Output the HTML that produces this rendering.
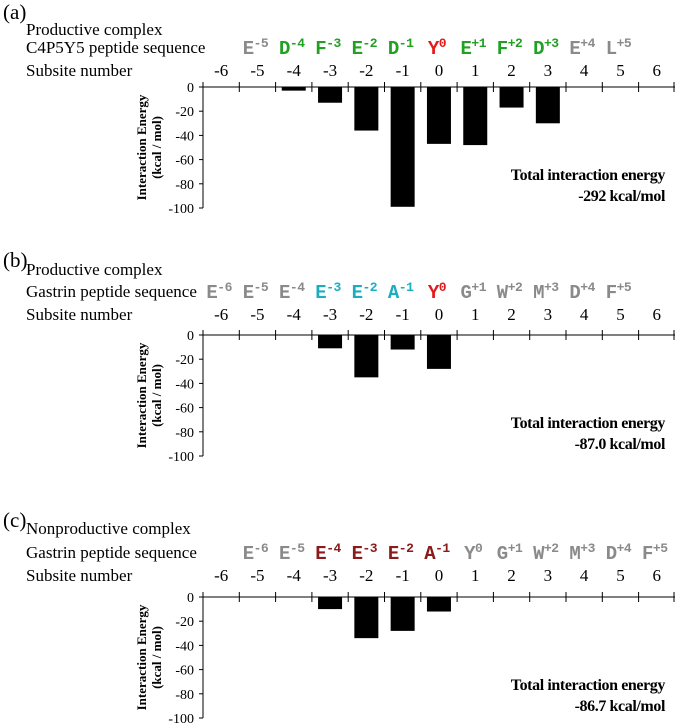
<!DOCTYPE html>
<html><head><meta charset="utf-8"><style>
body{margin:0;background:#fff;width:675px;height:726px;overflow:hidden}
svg{display:block}
.serif{font-family:"Liberation Serif",serif}
.mono{font-family:"Liberation Mono",monospace;font-weight:bold}
</style></head><body>
<svg id="fig" width="675" height="726" viewBox="0 0 675 726" xmlns="http://www.w3.org/2000/svg"></svg>
<script>
const subsites = [-6,-5,-4,-3,-2,-1,0,1,2,3,4,5,6];
const yTicks = [0,-20,-40,-60,-80,-100];
const valuesA = [0,0,-3,-13,-36,-99,-47,-48,-17,-30,0,0,0];
const valuesB = [0,0,0,-11,-35,-12,-28,0,0,0,0,0,0];
const valuesC = [0,0,0,-10,-34,-28,-12,0,0,0,0,0,0];
const seqA = [["",""],["E","-5"],["D","-4"],["F","-3"],["E","-2"],["D","-1"],["Y","0"],["E","+1"],["F","+2"],["D","+3"],["E","+4"],["L","+5"],["",""]];
const colA = ["","#8a8a8a","#22a022","#22a022","#22a022","#22a022","#e41a1a","#22a022","#22a022","#22a022","#8a8a8a","#8a8a8a",""];
const seqB = [["E","-6"],["E","-5"],["E","-4"],["E","-3"],["E","-2"],["A","-1"],["Y","0"],["G","+1"],["W","+2"],["M","+3"],["D","+4"],["F","+5"],["",""]];
const colB = ["#8a8a8a","#8a8a8a","#8a8a8a","#1aaec0","#1aaec0","#1aaec0","#e41a1a","#8a8a8a","#8a8a8a","#8a8a8a","#8a8a8a","#8a8a8a",""];
const seqC = [["",""],["E","-6"],["E","-5"],["E","-4"],["E","-3"],["E","-2"],["A","-1"],["Y","0"],["G","+1"],["W","+2"],["M","+3"],["D","+4"],["F","+5"]];
const colC = ["","#8a8a8a","#8a8a8a","#8b1a1a","#8b1a1a","#8b1a1a","#8b1a1a","#8a8a8a","#8a8a8a","#8a8a8a","#8a8a8a","#8a8a8a","#8a8a8a"];

const NS="http://www.w3.org/2000/svg";
const svg=document.getElementById('fig');
const X0=203, STEP=36.3;
function xC(i){return X0+STEP*(i+0.5);}
function mk(tag,attrs,parent){const e=document.createElementNS(NS,tag);for(const k in attrs)e.setAttribute(k,attrs[k]);(parent||svg).appendChild(e);return e;}
function txt(s,attrs,parent){const e=mk('text',attrs,parent);e.textContent=s;return e;}

const panels=[
 {id:'a',label:'(a)',labY:12,title:'Productive complex',titleY:29,seqName:'C4P5Y5 peptide sequence',seqY:47,subY:70,y0:87,vals:valuesA,seq:seqA,col:colA,total:'-292 kcal/mol',totY:174},
 {id:'b',label:'(b)',labY:260,title:'Productive complex',titleY:269,seqName:'Gastrin peptide sequence',seqY:291,subY:314,y0:335,vals:valuesB,seq:seqB,col:colB,total:'-87.0 kcal/mol',totY:422},
 {id:'c',label:'(c)',labY:520,title:'Nonproductive complex',titleY:528,seqName:'Gastrin peptide sequence',seqY:552,subY:575,y0:597,vals:valuesC,seq:seqC,col:colC,total:'-86.7 kcal/mol',totY:684}
];
const H=121;
panels.forEach(p=>{
  const g=mk('g',{});
  
  
  const ys=v=>p.y0 + (-v)/100*H;
  let t=txt(p.label,{x:3,y:p.labY+7,'font-size':21,class:'serif'},g);
  
  
  t=txt(p.title,{x:26,y:p.titleY+6,'font-size':17,class:'serif'},g);
  
  
  t=txt(p.seqName,{x:26,y:p.seqY+6,'font-size':17,class:'serif'},g);
  
  
  t=txt('Subsite number',{x:26,y:p.subY+6,'font-size':17,class:'serif'},g);
  
  
  subsites.forEach((s,i)=>{
    const l=txt(String(s),{x:xC(i),y:p.subY+6,'font-size':17,'text-anchor':'middle',class:'serif'},g);
    
    
    const q=p.seq[i];
    if(q[0]){
      const r=txt('',{x:xC(i)-2,y:p.seqY+7,'font-size':19,'text-anchor':'middle',class:'mono',fill:p.col[i],'letter-spacing':'-0.5'},g);
      
      
      const a=mk('tspan',{},r);a.textContent=q[0];
      const b=mk('tspan',{dy:-7,'font-size':13},r);b.textContent=q[1];
    }
  });
  let ax=mk('line',{x1:X0,y1:p.y0,x2:X0,y2:p.y0+H,stroke:'#000','stroke-width':1},g);
  
  
  yTicks.forEach(v=>{
    const ty=ys(v);
    const tk=mk('line',{x1:X0-4,y1:ty,x2:X0,y2:ty,stroke:'#000'},g);
    
    
    const tl=txt(String(v),{x:X0-9,y:ty+5,'font-size':14,'text-anchor':'end',class:'serif'},g);
    
    
  });
  const yt=txt('',{transform:`translate(146,${p.y0+H/2}) rotate(-90)`,'font-size':13,'font-weight':'bold','text-anchor':'middle',class:'serif'},g);
  
  
  let s1=mk('tspan',{x:0,y:0},yt);s1.textContent='Interaction Energy';
  let s2=mk('tspan',{x:0,y:15},yt);s2.textContent='(kcal / mol)';
  p.vals.forEach((v,i)=>{
    if(v===0)return;
    const b=mk('rect',{x:xC(i)-12,y:p.y0,width:24,height:ys(v)-p.y0,fill:'#000'},g);
    
    
  });
  ax=mk('line',{x1:X0,y1:p.y0,x2:675,y2:p.y0,stroke:'#000','stroke-width':1},g);
  
  
  for(let i=0;i<=13;i++){
    const tk=mk('line',{x1:Math.min(X0+STEP*i,674),y1:p.y0-5,x2:Math.min(X0+STEP*i,674),y2:p.y0+5,stroke:'#000'},g);
    
    
  }
  const tt=txt('Total interaction energy',{x:665,y:p.totY+6,'font-size':16,'font-weight':'bold','text-anchor':'end',class:'serif','letter-spacing':'-0.4'},g);
  
  
  const tv=txt(p.total,{x:665,y:p.totY+27,'font-size':16,'font-weight':'bold','text-anchor':'end',class:'serif','letter-spacing':'-0.4'},g);
  
  
});
</script>
</body></html>
